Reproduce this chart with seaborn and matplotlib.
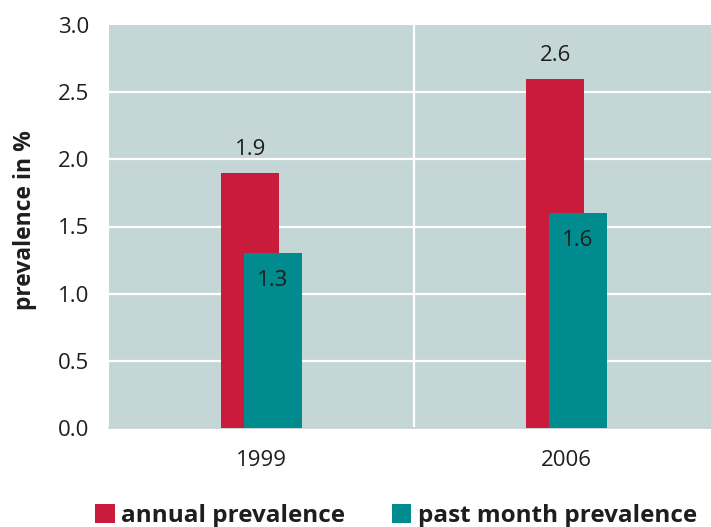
import matplotlib
matplotlib.use("Agg")
import matplotlib.pyplot as plt
import seaborn as sns
import numpy as np
import pandas as pd
from matplotlib.patches import Patch

years = ["1999", "2006"]
annual = [1.9, 2.6]
past_month = [1.3, 1.6]
series_names = ["annual prevalence", "past month prevalence"]
yticks = [0.0, 0.5, 1.0, 1.5, 2.0, 2.5, 3.0]

RED = "#c91c3d"
TEAL = "#008b8f"
BG = "#c4d6d5"
TXT = "#1e1e1e"

sns.set_theme(style="white")
plt.rcParams['font.family'] = ['Open Sans', 'DejaVu Sans']

fig = plt.figure(figsize=(7.11, 5.27), dpi=100)
ax = fig.add_axes([109/711, (527-428)/527, (719-109)/711, (428-25)/527])
ax.set_facecolor(BG)

idx = np.arange(len(years))
off = 0.037
bw = 0.19
df_a = pd.DataFrame({"x": idx - off, "v": annual})
df_p = pd.DataFrame({"x": idx + off, "v": past_month})

sns.barplot(data=df_a, x="x", y="v", native_scale=True, width=bw, color=RED,
            saturation=1, ax=ax, zorder=3, linewidth=0)
sns.barplot(data=df_p, x="x", y="v", native_scale=True, width=bw, color=TEAL,
            saturation=1, ax=ax, zorder=4, linewidth=0)

ax.bar_label(ax.containers[0], labels=[f"{v:.1f}" for v in annual], padding=9,
             fontsize=16, color=TXT, zorder=5)
ax.bar_label(ax.containers[1], labels=[f"{v:.1f}" for v in past_month], padding=-27,
             fontsize=16, color=TXT, zorder=5)

ax.set_xlim(-0.5, 1.5)
ax.set_ylim(0, 3.0)
ax.set_yticks(yticks)
ax.set_yticklabels([f"{t:.1f}" for t in yticks], fontsize=16, color=TXT)
ax.set_xticks(idx)
ax.set_xticklabels(years, fontsize=16, color=TXT)
ax.tick_params(axis="x", length=0, pad=16)
ax.tick_params(axis="y", length=0, pad=14)
ax.set_xticks([-0.5, 0.5, 1.5], minor=True)
ax.tick_params(axis="x", which="minor", length=5, color="#c8d0cf", width=1.2)

for y in yticks[1:-1]:
    ax.axhline(y, color="white", lw=1.6, zorder=1)
ax.axvline(0.5, color="white", lw=1.6, zorder=1)

for s in ["top", "right", "left"]:
    ax.spines[s].set_visible(False)
ax.spines["bottom"].set_color("#c8d0cf")
ax.spines["bottom"].set_linewidth(1.2)

ax.set_xlabel("")
ax.set_ylabel("prevalence in %", fontsize=16.5, fontweight="bold", color=TXT)
ax.yaxis.set_label_coords(-0.118, 0.516)

handles = [Patch(facecolor=RED, edgecolor="none"), Patch(facecolor=TEAL, edgecolor="none")]
fig.legend(handles, series_names, loc="center", bbox_to_anchor=(396/711, 1 - 516/527),
           ncol=2, frameon=False, prop={"weight": "bold", "size": 17.5},
           handlelength=0.82, handleheight=0.82, handletextpad=0.25, columnspacing=1.9,
           labelcolor=TXT)

fig.savefig("out.png", dpi=100)
